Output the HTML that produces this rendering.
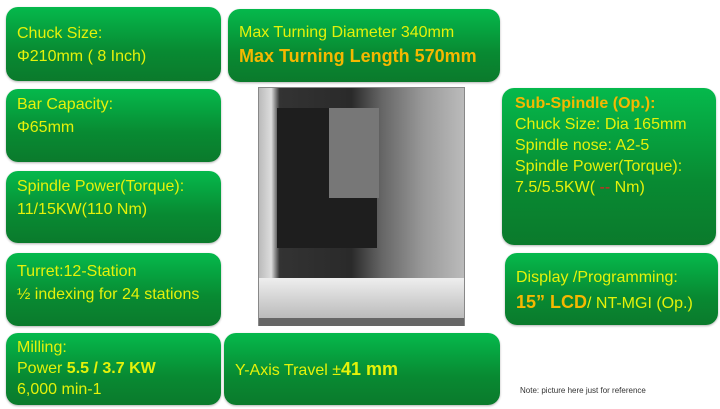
<!DOCTYPE html>
<html><head><style>
body{margin:0;width:720px;height:409px;background:#fff;position:relative;overflow:hidden;font-family:"Liberation Sans",sans-serif}
.b{position:absolute;border-radius:12px;background:linear-gradient(#05b94c,#088a32 60%,#0b7a2c);box-shadow:0 1px 2px rgba(0,0,0,.3);color:#e4f20a;font-size:16px;line-height:23px;padding:14px 0 0 11px;box-sizing:border-box;white-space:nowrap}
.o{color:#f5b800;font-weight:bold}
.y{font-weight:bold}
</style></head><body>
<div class="b" style="left:6px;top:7px;width:215px;height:74px;padding-top:15px">Chuck Size:<br>Φ210mm ( 8 Inch)</div>
<div class="b" style="left:6px;top:89px;width:215px;height:73px;padding-top:4px">Bar Capacity:<br>Φ65mm</div>
<div class="b" style="left:6px;top:171px;width:215px;height:72px;padding-top:4px">Spindle Power(Torque):<br>11/15KW(110 Nm)</div>
<div class="b" style="left:6px;top:253px;width:215px;height:73px;padding-top:7px;line-height:23px">Turret:12-Station<br>½ indexing for 24 stations</div>
<div class="b" style="left:6px;top:333px;width:215px;height:72px;padding-top:4px;line-height:21px">Milling:<br>Power <span class="y">5.5 / 3.7 KW</span><br>6,000 min-1</div>
<div class="b" style="left:228px;top:9px;width:272px;height:73px;padding-top:12px">Max Turning Diameter 340mm<br><span class="o" style="font-size:18px;line-height:24px">Max Turning Length 570mm</span></div>
<div class="b" style="left:224px;top:333px;width:276px;height:72px;padding-top:25px">Y-Axis Travel ±<b style="font-size:18px">41 mm</b></div>
<div class="b" style="left:502px;top:88px;width:214px;height:157px;padding:5px 0 0 13px;line-height:21px"><span class="o">Sub-Spindle (Op.):</span><br>Chuck Size: Dia 165mm<br>Spindle nose: A2-5<br>Spindle Power(Torque):<br>7.5/5.5KW( <span style="color:#e02020">--</span> Nm)</div>
<div class="b" style="left:505px;top:253px;width:213px;height:72px;padding-top:13px;line-height:24px">Display /Programming:<br><span class="o" style="font-size:18px">15” LCD</span>/ NT-MGI (Op.)</div>
<div style="position:absolute;left:258px;top:87px;width:207px;height:239px;background:linear-gradient(90deg,#bbb 0,#ddd 6%,#333 10%,#2a2a2a 45%,#666 60%,#999 80%,#bbb);border:1px solid #888;box-sizing:border-box">
<div style="position:absolute;left:18px;top:20px;width:100px;height:140px;background:#1e1e1e"></div>
<div style="position:absolute;left:70px;top:20px;width:50px;height:90px;background:#777"></div>
<div style="position:absolute;left:0;top:190px;width:205px;height:40px;background:linear-gradient(#eee,#bbb)"></div>
<div style="position:absolute;left:0;top:230px;width:205px;height:8px;background:#666"></div>
</div>
<div style="position:absolute;left:520px;top:386px;font-size:8px;color:#333">Note: picture here just for reference</div>
</body></html>
